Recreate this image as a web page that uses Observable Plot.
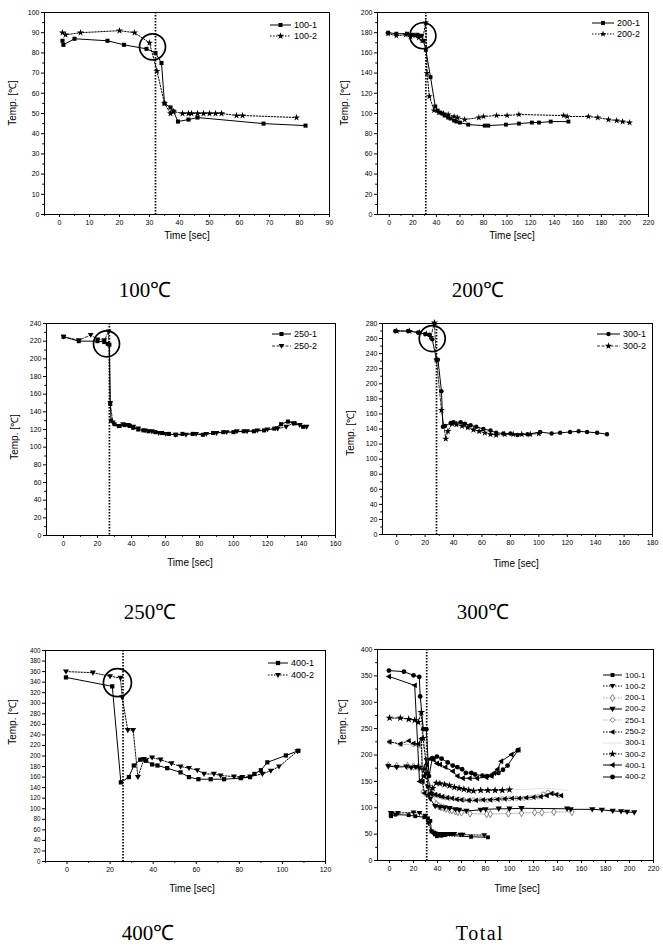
<!DOCTYPE html>
<html><head><meta charset="utf-8">
<script src="https://cdn.jsdelivr.net/npm/d3@7"></script>
<script src="https://cdn.jsdelivr.net/npm/@observablehq/plot@0.6"></script>
<style>
body{margin:0;background:#fff}
#page{position:relative;width:663px;height:948px;overflow:hidden;background:#fff;font-family:"Liberation Sans",Arial,sans-serif;color:#000}
.pl{position:absolute}
.cap{position:absolute;font-family:"Liberation Serif",serif;font-size:21px;transform:translateX(-50%);white-space:nowrap;line-height:24px}
.xl{position:absolute;font-size:10px;transform:translateX(-50%);white-space:nowrap;line-height:12px}
.yl{position:absolute;font-size:10px;transform:translate(-50%,-50%) rotate(-90deg);white-space:nowrap;line-height:12px}
.lg{position:absolute;display:flex;align-items:center;white-space:nowrap}
</style></head><body><div id="page"></div><script>
// ---------- data (time [sec], temperature [°C]) ----------
const t100_1 = [1, 1.3, 5, 16, 21.5, 29, 32, 34, 35, 37, 38, 39.5, 43, 46, 68, 82];
const v100_1 = [86, 84, 87, 86, 84, 82, 80, 75, 55, 53, 51, 46, 47, 48, 45, 44];
const t100_2 = [1, 2, 7, 20, 25, 30, 32.5, 35, 37, 38, 41, 43, 44, 46, 48, 50, 52, 54, 59, 61, 79];
const v100_2 = [90, 89, 90, 91, 90, 85, 71, 55, 50, 51, 50, 50, 50, 50, 50, 50, 50, 50, 49, 49, 48];

const t200_1 = [-1, 6, 15, 20, 24, 27, 29, 31, 35, 39, 41, 43, 45, 47, 50, 52, 55, 57, 60, 67, 81, 84, 99, 110, 121, 127, 137, 152];
const v200_1 = [180, 179, 179, 178, 178, 177, 172, 163, 136, 107, 103, 101, 100, 98, 96, 95, 93, 92, 91, 89, 88, 88, 89, 90, 91, 91, 92, 92];
const t200_2 = [-1, 6, 14, 18, 22, 25, 28, 31, 32, 34, 38, 42, 46, 50, 55, 58, 64, 76, 80, 91, 100, 110, 148, 151, 169, 177, 186, 193, 198, 204];
const v200_2 = [179, 177, 178, 176, 177, 175, 172, 190, 140, 117, 103, 101, 100, 99, 97, 96, 94, 96, 97, 98, 98, 99, 98, 97, 97, 96, 94, 93, 92, 91];

const t250_1 = [0, 9, 20, 24, 26, 27, 27.5, 28, 30, 33, 36, 39, 41, 44, 47, 50, 54, 58, 62, 66, 70, 76, 82, 88, 94, 100, 106, 112, 118, 124, 128, 132, 136, 141];
const v250_1 = [225, 220, 220, 219, 217, 216, 149, 130, 126, 124, 125, 124, 122, 120, 119, 118, 117, 116, 115, 114, 115, 115, 114, 116, 117, 117, 118, 118, 119, 121, 126, 129, 127, 123];
const t250_2 = [0, 9, 16, 20, 24, 26.5, 27.5, 29, 32, 35, 38, 41, 44, 48, 52, 56, 60, 66, 72, 78, 84, 90, 96, 102, 108, 114, 120, 126, 131, 135, 139, 143];
const v250_2 = [225, 221, 227, 222, 221, 231, 150, 128, 124, 126, 125, 123, 121, 119, 118, 116, 115, 114, 114, 115, 115, 116, 117, 118, 118, 119, 120, 121, 123, 127, 125, 123];

const t300_1 = [-1, 8, 15, 20, 23, 25, 28, 29, 31.5, 32.5, 34, 38, 40, 45, 48, 52, 56, 61, 66, 70, 75, 80, 85, 92, 101, 109, 115, 122, 128, 134, 141, 148];
const v300_1 = [270, 270, 268, 266, 265, 259, 232, 232, 190, 143, 144, 148, 149, 149, 147, 145, 143, 140, 138, 135, 134, 134, 132, 133, 136, 134, 135, 136, 137, 136, 135, 133];
const t300_2 = [0, 9, 16, 21, 24, 26.5, 28, 31.5, 34.5, 36, 39, 42, 46, 50, 54, 58, 62, 66, 70, 76, 82, 88, 94, 100];
const v300_2 = [270, 270, 268, 266, 262, 281, 232, 165, 127, 137, 147, 146, 144, 142, 139, 137, 135, 133, 132, 133, 133, 133, 133, 134];

const t400_1 = [-0.5, 21, 25, 28.7, 31, 34, 36.7, 39.5, 42, 46.5, 52.7, 56.6, 61, 66.7, 72.9, 80.6, 85, 87, 90, 93, 101.6, 107.4];
const v400_1 = [349, 332, 150, 160, 182, 193, 191, 184, 182, 177, 169, 160, 156, 156, 156, 158, 160, 166, 173, 188, 201, 210];
const t400_2 = [-0.5, 12, 20, 24.8, 25.6, 28.2, 30.7, 32.9, 35.7, 39.5, 43.4, 48.5, 52.7, 56.6, 60.5, 63.6, 68.2, 71.3, 77.5, 81.4, 85, 90.7, 94.6, 98.4, 107];
const v400_2 = [360, 358, 351, 348, 311, 249, 249, 160, 194, 197, 193, 186, 180, 177, 173, 166, 166, 163, 161, 160, 161, 166, 172, 180, 209];

// drop instant (vertical dotted line) per panel: 100, 200, 250, 300, 400, Total
const dropT = [32, 31, 27, 28, 26, 31];
// circled points per panel: 100, 200, 250, 300, 400
const circleT = [31, 28.5, 25.3, 25, 23.4];
const circleV = [83, 177, 217, 260, 339];

// tick labels
const xt100 = [0, 10, 20, 30, 40, 50, 60, 70, 80, 90];
const yt100 = [0, 10, 20, 30, 40, 50, 60, 70, 80, 90, 100];
const xt200 = [0, 20, 40, 60, 80, 100, 120, 140, 160, 180, 200, 220];
const yt200 = [0, 20, 40, 60, 80, 100, 120, 140, 160, 180, 200];
const xt250 = [0, 20, 40, 60, 80, 100, 120, 140, 160];
const yt250 = [0, 20, 40, 60, 80, 100, 120, 140, 160, 180, 200, 220, 240];
const xt300 = [0, 20, 40, 60, 80, 100, 120, 140, 160, 180];
const yt300 = [0, 20, 40, 60, 80, 100, 120, 140, 160, 180, 200, 220, 240, 260, 280];
const xt400 = [0, 20, 40, 60, 80, 100, 120];
const yt400 = [0, 20, 40, 60, 80, 100, 120, 140, 160, 180, 200, 220, 240, 260, 280, 300, 320, 340, 360, 380, 400];
const xtTot = [0, 20, 40, 60, 80, 100, 120, 140, 160, 180, 200, 220];
const ytTot = [0, 50, 100, 150, 200, 250, 300, 350, 400];

const panelCaptions = ["100℃", "200℃", "250℃", "300℃", "400℃", "Total"];

// ---------- symbols ----------
const triDown = {draw(ctx, size){const r = Math.sqrt(size/Math.PI)*1.3; ctx.moveTo(-r,-r*0.7); ctx.lineTo(r,-r*0.7); ctx.lineTo(0,r); ctx.closePath();}};
const triLeft = {draw(ctx, size){const r = Math.sqrt(size/Math.PI)*1.3; ctx.moveTo(-r,0); ctx.lineTo(r*0.7,-r); ctx.lineTo(r*0.7,r); ctx.closePath();}};
const SQ = d3.symbolSquare, ST = d3.symbolStar, CI = d3.symbolCircle, DI = d3.symbolDiamond;

const page = document.getElementById("page");

function addPanel(cfg){
  const marks = [];
  if (cfg.xm) marks.push(Plot.axisX(cfg.xm, {tickSize: 1.8, tickFormat: () => "", label: null}));
  if (cfg.ym) marks.push(Plot.axisY(cfg.ym, {tickSize: 1.8, tickFormat: () => "", label: null}));
  marks.push(Plot.axisX(cfg.xt, {tickSize: 3, tickPadding: 3, label: null, fontSize: 7}));
  marks.push(Plot.axisY(cfg.yt, {tickSize: 3, tickPadding: 2, label: null, fontSize: cfg.yfs || 7}));
  marks.push(Plot.frame({stroke: "#000", strokeWidth: 1}));
  marks.push(Plot.ruleX([cfg.drop], {stroke: "#000", strokeWidth: 1.7, strokeDasharray: "1.4,1.6"}));
  for (const s of cfg.series) {
    const data = s.t.map((t, i) => ({t, v: s.v[i]}));
    marks.push(Plot.line(data, {x: "t", y: "v", stroke: s.stroke || "#000", strokeWidth: s.w || 1, strokeDasharray: s.dash || null}));
    if (s.symbol) marks.push(Plot.dot(data, {x: "t", y: "v", r: s.r || 2.2, symbol: s.symbol, fill: s.fill || "#000", stroke: s.mstroke || "none", strokeWidth: 0.8}));
  }
  if (cfg.circle) marks.push(Plot.dot([cfg.circle], {x: "t", y: "v", r: cfg.circle.r, fill: "none", stroke: "#000", strokeWidth: 1.7}));
  const svg = Plot.plot({
    width: cfg.w, height: cfg.h,
    marginLeft: cfg.ml, marginRight: cfg.mr, marginTop: cfg.mt, marginBottom: cfg.mb,
    x: {domain: cfg.xd}, y: {domain: cfg.yd},
    style: {fontFamily: "Liberation Sans, Arial, sans-serif", fontSize: "7px", background: "none", overflow: "visible", color: "#000"},
    marks
  });
  svg.classList.add("pl");
  svg.style.left = cfg.left + "px"; svg.style.top = cfg.top + "px";
  page.append(svg);
}

function addText(cls, txt, x, y, extra){
  const d = document.createElement("div");
  d.className = cls; d.textContent = txt;
  d.style.left = x + "px"; d.style.top = y + "px";
  if (extra) Object.assign(d.style, extra);
  page.append(d);
}

function addLegend(x, y, rowH, items, fs, lineW){
  items.forEach((s, i) => {
    const div = document.createElement("div");
    div.className = "lg";
    div.style.left = x + "px"; div.style.top = (y + i*rowH - 5) + "px"; div.style.height = "10px"; div.style.fontSize = fs + "px";
    const svg = d3.create("svg").attr("width", lineW).attr("height", 10).style("margin-right", "3px");
    svg.append("line").attr("x1", 0).attr("x2", lineW).attr("y1", 5).attr("y2", 5)
      .attr("stroke", s.stroke || "#000").attr("stroke-width", s.w || 1).attr("stroke-dasharray", s.dash || null);
    if (s.symbol) svg.append("path").attr("transform", `translate(${lineW/2},5)`)
      .attr("d", d3.symbol(s.symbol, Math.PI * Math.pow(s.r || 2.2, 2))())
      .attr("fill", s.fill || "#000").attr("stroke", s.mstroke || "none").attr("stroke-width", 0.8);
    div.append(svg.node());
    div.append(document.createTextNode(s.name));
    page.append(div);
  });
}

// series styles (individual panels)
const S = {
  a1: {name: "100-1", t: t100_1, v: v100_1, symbol: SQ, r: 2.3},
  a2: {name: "100-2", t: t100_2, v: v100_2, symbol: ST, r: 2.2, dash: "1.5,1.5"},
  b1: {name: "200-1", t: t200_1, v: v200_1, symbol: SQ, r: 2.2},
  b2: {name: "200-2", t: t200_2, v: v200_2, symbol: ST, r: 2.1, dash: "1.5,1.5"},
  c1: {name: "250-1", t: t250_1, v: v250_1, symbol: SQ, r: 2.3},
  c2: {name: "250-2", t: t250_2, v: v250_2, symbol: triDown, r: 2.2, dash: "3,1.5", w: 0.8},
  d1: {name: "300-1", t: t300_1, v: v300_1, symbol: CI, r: 2.2},
  d2: {name: "300-2", t: t300_2, v: v300_2, symbol: ST, r: 2.2, dash: "3,1.5", w: 0.8},
  e1: {name: "400-1", t: t400_1, v: v400_1, symbol: SQ, r: 2.4},
  e2: {name: "400-2", t: t400_2, v: v400_2, symbol: triDown, r: 2.3, dash: "1.5,1.5"}
};
// series styles (Total panel)
const T = [
  {name: "100-1", t: t100_1, v: v100_1, symbol: SQ, r: 2.2},
  {name: "100-2", t: t100_2, v: v100_2, symbol: triDown, r: 2.2, dash: "1.5,1.5"},
  {name: "200-1", t: t200_1, v: v200_1, symbol: DI, r: 2.2, fill: "#fff", mstroke: "#666", stroke: "#aaa", dash: "1.5,1.5"},
  {name: "200-2", t: t200_2, v: v200_2, symbol: triDown, r: 2.4},
  {name: "250-1", t: t250_1, v: v250_1, symbol: CI, r: 2, fill: "#fff", mstroke: "#777", stroke: "#aaa", dash: "1.5,1.5"},
  {name: "250-2", t: t250_2, v: v250_2, symbol: triLeft, r: 2.2, dash: "1.5,1.5"},
  {name: "300-1", t: t300_1, v: v300_1, stroke: "#ccc", w: 0.6},
  {name: "300-2", t: t300_2, v: v300_2, symbol: ST, r: 2.4, dash: "1.5,1.5"},
  {name: "400-1", t: t400_1, v: v400_1, symbol: triLeft, r: 2.3},
  {name: "400-2", t: t400_2, v: v400_2, symbol: CI, r: 2.4}
];

// ---------- panels ----------
addPanel({left: 0, top: 0, w: 335, h: 240, ml: 44, mr: 6, mt: 12, mb: 26, xd: [-5, 90], yd: [0, 100],
  xt: xt100, yt: yt100, xm: d3.range(-5, 90, 10), ym: d3.range(5, 100, 10), drop: dropT[0],
  circle: {t: circleT[0], v: circleV[0], r: 13}, series: [S.a1, S.a2]});
addPanel({left: 335, top: 0, w: 328, h: 240, ml: 42, mr: 15, mt: 12, mb: 26, xd: [-10, 220], yd: [0, 200],
  xt: xt200, yt: yt200, xm: d3.range(10, 220, 20), ym: d3.range(10, 200, 20), drop: dropT[1],
  circle: {t: circleT[1], v: circleV[1], r: 13}, series: [S.b1, S.b2]});
addPanel({left: 0, top: 300, w: 340, h: 260, ml: 46, mr: 5, mt: 23, mb: 25, xd: [-10, 160], yd: [0, 240],
  xt: xt250, yt: yt250, xm: d3.range(10, 160, 20), ym: d3.range(10, 240, 20), drop: dropT[2],
  circle: {t: circleT[2], v: circleV[2], r: 13}, series: [S.c1, S.c2]});
addPanel({left: 335, top: 300, w: 328, h: 260, ml: 47, mr: 11, mt: 23, mb: 26, xd: [-10, 180], yd: [0, 280],
  xt: xt300, yt: yt300, xm: d3.range(10, 180, 20), ym: d3.range(10, 280, 20), drop: dropT[3],
  circle: {t: circleT[3], v: circleV[3], r: 13}, series: [S.d1, S.d2]});
addPanel({left: 0, top: 630, w: 335, h: 260, ml: 45, mr: 10, mt: 20, mb: 29, xd: [-10, 120], yd: [0, 400],
  xt: xt400, yt: yt400, yfs: 6.3, xm: d3.range(-10, 120, 10).filter(d => d % 20 !== 0), drop: dropT[4],
  circle: {t: circleT[4], v: circleV[4], r: 14}, series: [S.e1, S.e2]});
addPanel({left: 335, top: 630, w: 328, h: 260, ml: 42, mr: 10, mt: 19, mb: 30, xd: [-10, 220], yd: [0, 400],
  xt: xtTot, yt: ytTot, xm: d3.range(10, 220, 20), ym: d3.range(25, 400, 50), drop: dropT[5],
  series: T});

// ---------- axis titles ----------
[[187, 230], [512, 230], [190, 557], [516, 558], [192, 883], [517, 883]].forEach(([x, y]) => addText("xl", "Time [sec]", x, y));
[[13, 103], [345, 103], [15, 437], [351, 433], [13, 722], [343, 722]].forEach(([x, y]) => addText("yl", "Temp. [℃]", x, y));

// ---------- captions ----------
[[145, 278], [478, 278], [150, 600], [483, 600], [148, 921], [480, 921]].forEach(([x, y], i) =>
  addText("cap", panelCaptions[i], x, y, i === 5 ? {letterSpacing: "1.5px", fontSize: "20px"} : null));

// ---------- legends ----------
addLegend(270, 25, 11, [S.a1, S.a2], 9, 21);
addLegend(592, 23, 11, [S.b1, S.b2], 9, 22);
addLegend(272, 334, 12, [S.c1, S.c2], 9, 19);
addLegend(597, 334, 12, [S.d1, S.d2], 9, 23);
addLegend(268, 663, 12, [S.e1, S.e2], 9, 20);
addLegend(603, 675, 11.3, T, 8, 19);
</script></body></html>
